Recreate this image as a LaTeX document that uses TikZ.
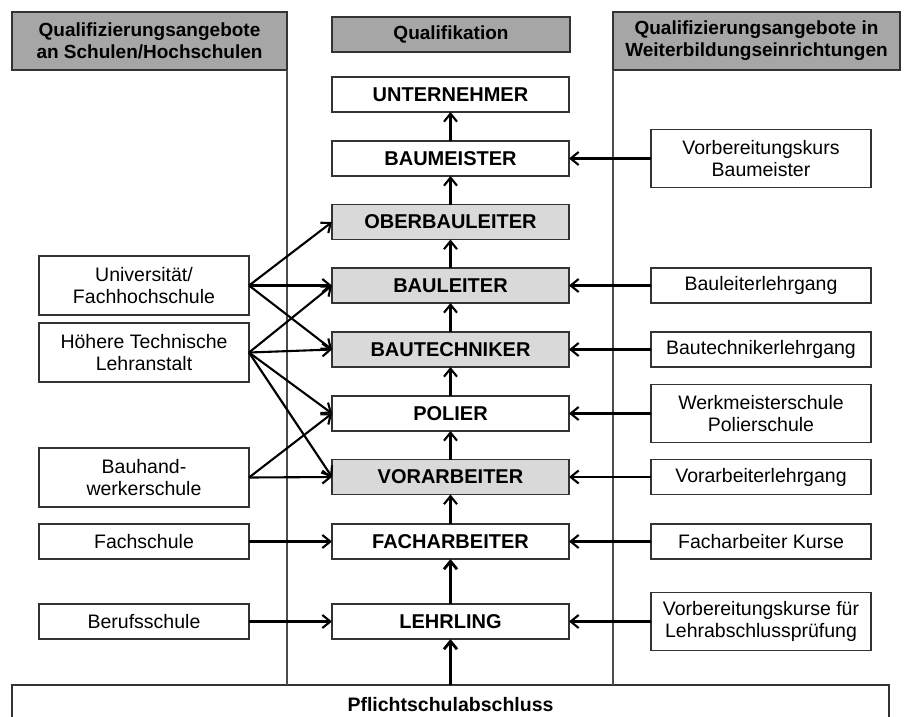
\documentclass[tikz,border=0pt]{standalone}
\usepackage{fontspec}
\setmainfont{Liberation Sans}
\usetikzlibrary{arrows.meta,shadows}

\tikzset{
  box/.style={draw=black!80, line width=1.1pt, fill=white, inner sep=0pt, outer sep=0pt,
    align=center, font=\fontsize{19.5}{22}\selectfont},
  quali/.style={box, minimum width=237pt, minimum height=35pt, font=\fontsize{20}{22}\selectfont\bfseries},
  graubox/.style={quali, fill=black!15},
  schule/.style={box, minimum width=210pt, minimum height=35pt},
  kurs/.style={box, minimum width=220pt, minimum height=35pt},
  kopf/.style={box, fill=black!35, font=\fontsize{19}{22}\selectfont\bfseries,
    drop shadow={shadow xshift=1.3pt, shadow yshift=-1.3pt, fill=black!75, opacity=1}},
  trenn/.style={draw=black!70, line width=1.3pt},
  pfeil/.style={-{Straight Barb[length=8pt,width=13pt]}, line width=2.1pt},
}

\begin{document}
\begin{tikzpicture}[x=1pt, y=-1pt]
\useasboundingbox (0,0) rectangle (906,716);
\clip (0,0) rectangle (906,716);

% Kopfzeilen
\node[kopf, minimum width=275pt, minimum height=58pt] (kopflinks) at (149.5,41) {Qualifizierungsangebote\\an Schulen/Hochschulen};
\node[kopf, minimum width=238pt, minimum height=35pt] (kopfmitte) at (451,34.5) {Qualifikation};
\node[kopf, minimum width=287pt, minimum height=58pt] (kopfrechts) at (756.5,41) {Qualifizierungsangebote in\\Weiterbildungseinrichtungen};

% Pflichtschule
\node[box, minimum width=877pt, minimum height=40pt, font=\fontsize{19.5}{22}\selectfont\bfseries] (pflicht) at (450.5,705) {Pflichtschulabschluss};

% Trennlinien
\draw[trenn] (kopflinks.south east) -- (pflicht.north -| kopflinks.east);
\draw[trenn] (kopfrechts.south west) -- (pflicht.north -| kopfrechts.west);

% Qualifikationen
\node[quali]   (unternehmer)   at (450.5,94.5)  {UNTERNEHMER};
\node[quali]   (baumeister)    at (450.5,158.5) {BAUMEISTER};
\node[graubox] (oberbauleiter) at (450.5,222)   {OBERBAULEITER};
\node[graubox] (bauleiter)     at (450.5,285.5) {BAULEITER};
\node[graubox] (bautechniker)  at (450.5,349.5) {BAUTECHNIKER};
\node[quali]   (polier)        at (450.5,413.5) {POLIER};
\node[graubox] (vorarbeiter)   at (450.5,477)   {VORARBEITER};
\node[quali]   (facharbeiter)  at (450.5,541.5) {FACHARBEITER};
\node[quali]   (lehrling)      at (450.5,621.5) {LEHRLING};

% Schulen/Hochschulen
\node[schule, minimum height=59pt] (uni)   at (144,285.5) {Universität/\\Fachhochschule};
\node[schule, minimum height=59pt] (htl)   at (144,352.5) {Höhere Technische\\Lehranstalt};
\node[schule, minimum height=59pt] (bhws)  at (144,477.5) {Bauhand-\\werkerschule};
\node[schule] (fachschule) at (144,541.5) {Fachschule};
\node[schule] (berufs)     at (144,621.5) {Berufsschule};

% Weiterbildungseinrichtungen
\node[kurs, minimum height=58pt] (kbaumeister)  at (761,158.5) {Vorbereitungskurs\\Baumeister};
\node[kurs] (kbauleiter)     at (761,285.5) {Bauleiterlehrgang};
\node[kurs] (kbautechniker)  at (761,349.5) {Bautechnikerlehrgang};
\node[kurs, minimum height=58pt] (kpolier)  at (761,413.5) {Werkmeisterschule\\Polierschule};
\node[kurs] (kvorarbeiter)   at (761,477)   {Vorarbeiterlehrgang};
\node[kurs] (kfacharbeiter)  at (761,541.5) {Facharbeiter Kurse};
\node[kurs, minimum height=58pt] (klehrling) at (761,621.5) {Vorbereitungskurse für\\Lehrabschlussprüfung};

% Aufstieg
\foreach \unten/\oben in {baumeister/unternehmer, oberbauleiter/baumeister, bauleiter/oberbauleiter,
    bautechniker/bauleiter, polier/bautechniker, vorarbeiter/polier, facharbeiter/vorarbeiter}
  \draw[pfeil] (\unten) -- (\oben);
\draw[pfeil, line width=2.8pt] (lehrling) -- (facharbeiter);
\draw[pfeil, line width=2.8pt] (pflicht) -- (lehrling);

% links
\foreach \von/\nach in {uni/oberbauleiter, uni/bauleiter, uni/bautechniker,
    htl/bauleiter, htl/bautechniker, htl/polier, htl/vorarbeiter,
    bhws/polier, bhws/vorarbeiter, fachschule/facharbeiter, berufs/lehrling}
  \draw[pfeil] (\von.east) -- (\nach.west);

% rechts
\foreach \von/\nach in {kbaumeister/baumeister, kbauleiter/bauleiter, kbautechniker/bautechniker,
    kpolier/polier, kvorarbeiter/vorarbeiter, kfacharbeiter/facharbeiter, klehrling/lehrling}
  \draw[pfeil] (\von.west) -- (\nach.east);
\end{tikzpicture}
\end{document}
